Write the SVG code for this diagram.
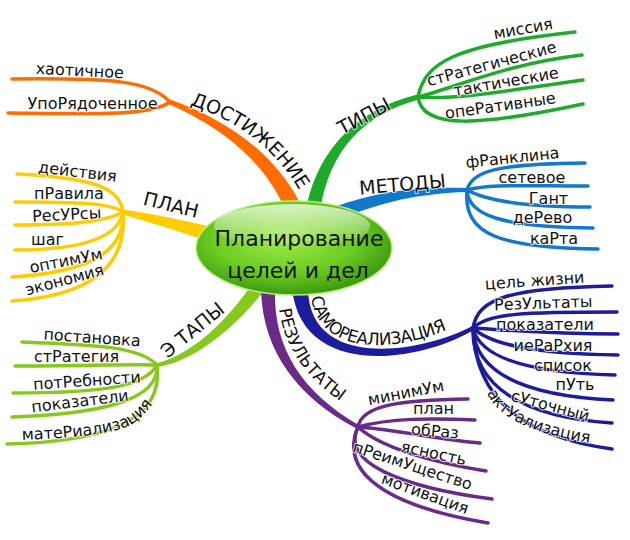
<svg xmlns="http://www.w3.org/2000/svg" width="630" height="540" viewBox="0 0 630 540">
<defs>
<radialGradient id="gc" cx="0.45" cy="0.4" r="0.6">
<stop offset="0" stop-color="#a2ea4c"/>
<stop offset="0.6" stop-color="#6ccd22"/>
<stop offset="1" stop-color="#3d9a10"/>
</radialGradient>
<linearGradient id="gh" x1="0" y1="0" x2="0" y2="1">
<stop offset="0" stop-color="#ffffff" stop-opacity="0.75"/>
<stop offset="1" stop-color="#ffffff" stop-opacity="0"/>
</linearGradient>
<path id="tpDost" d="M190,105 C226,117 270,140 299,190"/>
<path id="tpSamo" d="M311,297 C316,330 342,347 384,345 C416,343 438,334 464,322"/>
<path id="tpRez" d="M279,309 C284,348 308,384 358,412"/>
<path id="tpMat" d="M22,440 C70,438 112,435 132,424 C143,417 150,408 156,399"/>
<path id="tpAkt" d="M487,393 C497,416 528,434 598,444"/>
</defs>
<style>
.lf{font-family:"DejaVu Sans","Liberation Sans",sans-serif;font-size:16px;fill:#111;stroke:#fff;stroke-width:2px;stroke-opacity:0.8;paint-order:stroke}
.lb{font-family:"DejaVu Sans","Liberation Sans",sans-serif;font-size:19px;fill:#111;stroke:#fff;stroke-width:2px;stroke-opacity:0.8;paint-order:stroke}
.sl{fill:none;stroke-width:3.5;stroke-linecap:round}
.or{stroke:#ff6d00}.orf{fill:#ff6d00}
.gr{stroke:#1faa2c}.grf{fill:#1faa2c}
.bl{stroke:#1278cc}.blf{fill:#1278cc}
.ye{stroke:#ffcc00}.yef{fill:#ffcc00}
.lg{stroke:#86c91c}.lgf{fill:#86c91c}
.nv{stroke:#1c1c9c}.nvf{fill:#1c1c9c}
.pu{stroke:#6a2a88}.puf{fill:#6a2a88}
</style>
<g id="connectors">
<path class="orf" d="M170.9,99.7 C216.8,116.4 269.8,145.6 299.2,201.5 L284.8,208.5 C260.2,154.4 213.2,123.6 169.1,104.3 Z"/>
<path class="sl or" d="M170,102 C150,80 110,78 12,79"/>
<path class="sl or" d="M170,102 C150,116 100,114 8,113"/>
<path class="grf" d="M418.6,99.4 C361.7,115.0 329.9,152.4 320.9,206.4 L307.1,203.6 C320.1,147.6 358.3,109.0 417.4,94.6 Z"/>
<path class="sl gr" d="M418,97 C425,62 455,45 575,32"/>
<path class="sl gr" d="M418,97 C455,88 505,64 582,55"/>
<path class="sl gr" d="M418,97 C450,100 500,92 583,80"/>
<path class="sl gr" d="M418,97 C422,130 480,126 583,104"/>
<path class="blf" d="M467,192 C420.2,193.5 381.5,201.3 337.6,220.5 L332.4,207.5 C378.5,190.7 419.8,186.5 467,188 Z"/>
<path class="sl bl" d="M467,190 C472,170 500,164 585,163"/>
<path class="sl bl" d="M467,190 C490,184 520,186 588,186"/>
<path class="sl bl" d="M467,190 C485,200 520,207 590,207"/>
<path class="sl bl" d="M467,190 C468,215 500,227 593,228"/>
<path class="sl bl" d="M467,190 C463,235 500,248 598,249"/>
<path class="yef" d="M123.5,209.6 C150.9,213.9 181.6,219.4 217.3,228.8 L212.8,243.2 C178.5,230.6 149.1,222.1 122.5,214.4 Z"/>
<path class="sl ye" d="M123,212 C120,190 100,178 17,174"/>
<path class="sl ye" d="M123,212 C110,203 80,202 15,202"/>
<path class="sl ye" d="M123,212 C105,222 70,225 15,225"/>
<path class="sl ye" d="M123,212 C118,240 75,250 15,250"/>
<path class="sl ye" d="M123,212 C125,252 90,272 12,277"/>
<path class="sl ye" d="M123,212 C128,270 85,296 12,301"/>
<path class="lgf" d="M156.6,363.0 C193.3,355.0 230.9,316.4 256.3,278.0 L267.7,286.1 C239.1,323.6 196.8,361.0 157.4,367.0 Z"/>
<path class="sl lg" d="M157,365 C140,347 100,345 22,342"/>
<path class="sl lg" d="M157,365 C130,364 80,366 15,366"/>
<path class="sl lg" d="M157,365 C145,388 95,393 13,393"/>
<path class="sl lg" d="M157,365 C160,402 95,414 12,417"/>
<path class="sl lg" d="M157,365 C165,425 95,442 7,444"/>
<path class="nvf" d="M474,329.7 C421.1,361.9 302,380.2 292,288.5 L308,287.5 C308,369.8 418.9,354.2 472,326.3 Z"/>
<path class="sl nv" d="M473,328 C478,298 510,288 612,286"/>
<path class="sl nv" d="M473,328 C488,313 525,312 617,312"/>
<path class="sl nv" d="M473,328 C505,330 545,334 618,334"/>
<path class="sl nv" d="M473,328 C492,346 540,354 618,355"/>
<path class="sl nv" d="M473,328 C480,360 535,373 615,375"/>
<path class="sl nv" d="M473,328 C475,375 530,396 613,400"/>
<path class="sl nv" d="M473,328 C472,388 525,417 612,423"/>
<path class="sl nv" d="M473,328 C475,400 525,437 612,449"/>
<path class="puf" d="M357,428.8 C297.7,397.7 262.7,351.6 261,290 L275,290 C273.3,348.4 302.3,392.3 359,425.3 Z"/>
<path class="sl pu" d="M358,427 C362,405 400,400 468,399"/>
<path class="sl pu" d="M358,427 C390,418 430,418 475,420"/>
<path class="sl pu" d="M358,427 C400,430 440,440 480,443"/>
<path class="sl pu" d="M358,427 C380,447 430,462 486,471"/>
<path class="sl pu" d="M358,427 C340,462 400,487 492,499"/>
<path class="sl pu" d="M358,427 C335,482 410,510 488,523"/>
</g>
<g id="center">
<ellipse cx="294" cy="248" rx="98" ry="47" fill="url(#gc)" stroke="#b8f07c" stroke-width="1.5"/>
<ellipse cx="292" cy="226" rx="78" ry="22" fill="url(#gh)"/>
<text x="299" y="246" text-anchor="middle" style="font-family:'DejaVu Sans','Liberation Sans',sans-serif;font-size:22px;fill:#111">Планирование</text>
<text x="298" y="278" text-anchor="middle" style="font-family:'DejaVu Sans','Liberation Sans',sans-serif;font-size:22px;fill:#111">целей и дел</text>
</g>
<g id="dostizhenie">
<text class="lb"><textPath href="#tpDost">ДОСТИЖЕНИЕ</textPath></text>
<text class="lf" x="79.5" y="76" text-anchor="middle" transform="rotate(3 79.5 76)">хаотичное</text>
<text class="lf" x="92.5" y="109" text-anchor="middle">УпоРядоченное</text>
</g>
<g id="tipy">
<text class="lb" x="367" y="122" text-anchor="middle" transform="rotate(-28 367 122)">ТИПЫ</text>
<text class="lf" x="524" y="34" text-anchor="middle" transform="rotate(-10 524 34)">миссия</text>
<text class="lf" x="493" y="69" text-anchor="middle" transform="rotate(-15 493 69)">стРатегические</text>
<text class="lf" x="507" y="87" text-anchor="middle" transform="rotate(-10 507 87)">тактические</text>
<text class="lf" x="501" y="111" text-anchor="middle" transform="rotate(-8 501 111)">опеРативные</text>
</g>
<g id="metody">
<text class="lb" x="403" y="191" text-anchor="middle" transform="rotate(-5 403 191)">МЕТОДЫ</text>
<text class="lf" x="513" y="163" text-anchor="middle" transform="rotate(-6 513 163)">фРанклина</text>
<text class="lf" x="532" y="182.5" text-anchor="middle">сетевое</text>
<text class="lf" x="548.5" y="203.5" text-anchor="middle">Гант</text>
<text class="lf" x="542.5" y="223" text-anchor="middle">деРево</text>
<text class="lf" x="554" y="244" text-anchor="middle">каРта</text>
</g>
<g id="plan">
<text class="lb" x="169.4" y="211.3" text-anchor="middle" transform="rotate(14 169.4 211.3)">ПЛАН</text>
<text class="lf" x="77" y="177" text-anchor="middle" transform="rotate(7 77 177)">действия</text>
<text class="lf" x="69" y="199" text-anchor="middle">пРавила</text>
<text class="lf" x="67" y="220" text-anchor="middle" transform="rotate(-3 67 220)">РесУРсы</text>
<text class="lf" x="47.5" y="245" text-anchor="middle">шаг</text>
<text class="lf" x="67" y="266" text-anchor="middle" transform="rotate(-11 67 266)">оптимУм</text>
<text class="lf" x="66" y="285" text-anchor="middle" transform="rotate(-15 66 285)">экономия</text>
</g>
<g id="etapy">
<text class="lb" x="196.6" y="335.1" text-anchor="middle" transform="rotate(-39 196.6 335.1)">Э ТАПЫ</text>
<text class="lf" x="91.7" y="343" text-anchor="middle" transform="rotate(4 91.7 343)">постановка</text>
<text class="lf" x="76.5" y="362" text-anchor="middle">стРатегия</text>
<text class="lf" x="87.3" y="386" text-anchor="middle" transform="rotate(-4 87.3 386)">потРебности</text>
<text class="lf" x="80.6" y="406.5" text-anchor="middle" transform="rotate(-7 80.6 406.5)">показатели</text>
<text class="lf"><textPath href="#tpMat">матеРиализация</textPath></text>
</g>
<g id="samorealizatsiya">
<text class="lb" style="font-size:17px;letter-spacing:-0.6px"><textPath href="#tpSamo">САМОРЕАЛИЗАЦИЯ</textPath></text>
<text class="lf" x="535" y="286" text-anchor="middle" transform="rotate(-4 535 286)">цель жизни</text>
<text class="lf" x="543.5" y="308.5" text-anchor="middle" transform="rotate(-2 543.5 308.5)">РезУльтаты</text>
<text class="lf" x="545" y="330" text-anchor="middle">показатели</text>
<text class="lf" x="553" y="350.5" text-anchor="middle">иеРаРхия</text>
<text class="lf" x="563" y="370.5" text-anchor="middle">список</text>
<text class="lf" x="575" y="390" text-anchor="middle">пУть</text>
<text class="lf" x="549" y="411" text-anchor="middle" transform="rotate(15 549 411)">сУточный</text>
<text class="lf"><textPath href="#tpAkt">актУализация</textPath></text>
</g>
<g id="rezultaty">
<text class="lb" style="font-size:17px"><textPath href="#tpRez">РЕЗУЛЬТАТЫ</textPath></text>
<text class="lf" x="407" y="398" text-anchor="middle" transform="rotate(-11 407 398)">минимУм</text>
<text class="lf" x="433.5" y="414" text-anchor="middle">план</text>
<text class="lf" x="434.6" y="436.5" text-anchor="middle" transform="rotate(5 434.6 436.5)">обРаз</text>
<text class="lf" x="432.5" y="458.4" text-anchor="middle" transform="rotate(12 432.5 458.4)">ясность</text>
<text class="lf" x="411" y="470.8" text-anchor="middle" transform="rotate(18 411 470.8)">пРеимУщество</text>
<text class="lf" x="423.3" y="498.7" text-anchor="middle" transform="rotate(20 423.3 498.7)">мотивация</text>
</g>
</svg>
